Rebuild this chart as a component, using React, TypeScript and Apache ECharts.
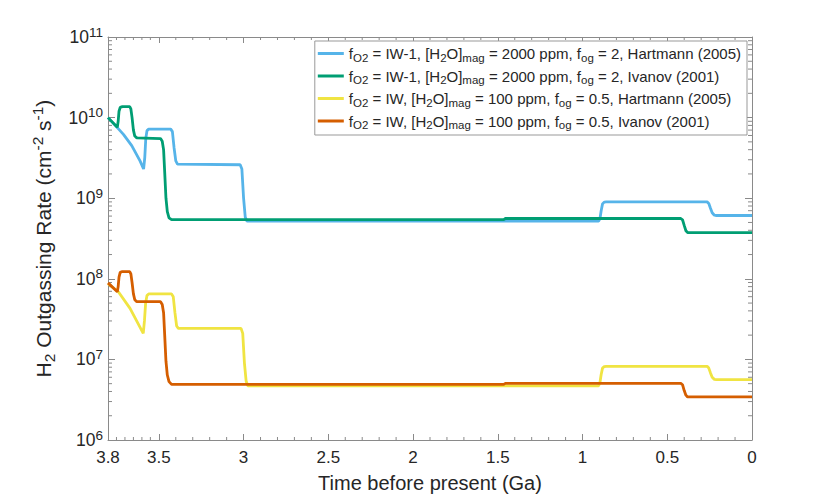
import React, { useEffect, useRef } from 'react';
import * as echarts from 'echarts';

const FONT = '"Liberation Sans", Arial, Helvetica, sans-serif';
const TEXT = '#262626';
const AXIS = '#8a8a8a';

const seriesNames = [
  'fO2 = IW-1, [H2O]mag = 2000 ppm, fog = 2, Hartmann (2005)',
  'fO2 = IW-1, [H2O]mag = 2000 ppm, fog = 2, Ivanov (2001)',
  'fO2 = IW, [H2O]mag = 100 ppm, fog = 0.5, Hartmann (2005)',
  'fO2 = IW, [H2O]mag = 100 ppm, fog = 0.5, Ivanov (2001)',
];
const legendRichLabels = [
  '{n|f}{s|O2}{n| = IW-1, [H}{s|2}{n|O]}{s|mag}{n| = 2000 ppm, f}{s|og}{n| = 2, Hartmann (2005)}',
  '{n|f}{s|O2}{n| = IW-1, [H}{s|2}{n|O]}{s|mag}{n| = 2000 ppm, f}{s|og}{n| = 2, Ivanov (2001)}',
  '{n|f}{s|O2}{n| = IW, [H}{s|2}{n|O]}{s|mag}{n| = 100 ppm, f}{s|og}{n| = 0.5, Hartmann (2005)}',
  '{n|f}{s|O2}{n| = IW, [H}{s|2}{n|O]}{s|mag}{n| = 100 ppm, f}{s|og}{n| = 0.5, Ivanov (2001)}',
];
const seriesColors = ['#56B4E9', '#009E73', '#F0E442', '#D55E00'];

// [time before present (Ga), H2 outgassing rate (cm^-2 s^-1)]
const hartmannIW1: [number, number][] = [
  [3.8, 1.0e10], [3.745, 7.5e9], [3.709, 6.2e9], [3.66, 4.5e9], [3.611, 2.9e9],
  [3.59, 2.3e9], [3.583, 3.2e9], [3.577, 5.5e9], [3.57, 6.9e9], [3.56, 7.2e9],
  [3.43, 7.2e9], [3.42, 6.7e9], [3.41, 4.2e9], [3.4, 2.9e9], [3.39, 2.65e9],
  [3.02, 2.6e9], [3.01, 2.3e9], [3.0, 1.0e9], [2.99, 5.8e8], [2.98, 5.2e8],
  [0.905, 5.2e8], [0.897, 5.6e8], [0.89, 7.0e8], [0.882, 8.5e8], [0.872, 8.95e8], [0.86, 9.0e8],
  [0.265, 9.0e8], [0.255, 8.6e8], [0.245, 7.5e8], [0.235, 6.6e8], [0.222, 6.15e8], [0.21, 6.1e8],
  [0.0, 6.1e8],
];
const ivanovIW1: [number, number][] = [
  [3.8, 1.0e10], [3.745, 7.6e9], [3.74, 9.0e9], [3.735, 1.2e10], [3.728, 1.34e10], [3.715, 1.37e10],
  [3.672, 1.37e10], [3.665, 1.28e10], [3.658, 1.0e10], [3.65, 7.0e9], [3.642, 5.9e9], [3.63, 5.6e9],
  [3.49, 5.5e9], [3.48, 5.1e9], [3.472, 4.0e9], [3.465, 2.0e9], [3.458, 1.0e9], [3.45, 6.8e8],
  [3.44, 5.7e8], [3.425, 5.42e8],
  [1.465, 5.42e8], [1.455, 5.6e8],
  [0.42, 5.6e8], [0.41, 5.4e8], [0.4, 4.6e8], [0.39, 3.95e8], [0.38, 3.75e8],
  [0.0, 3.75e8],
];
const hartmannIW: [number, number][] = [
  [3.8, 8.7e7], [3.739, 6.9e7], [3.67, 4.3e7], [3.592, 2.1e7], [3.585, 3.0e7],
  [3.578, 5.0e7], [3.57, 6.2e7], [3.56, 6.5e7],
  [3.425, 6.5e7], [3.415, 6.0e7], [3.405, 3.8e7], [3.395, 2.6e7], [3.385, 2.43e7],
  [3.015, 2.43e7], [3.005, 2.1e7], [2.995, 9.0e6], [2.985, 5.4e6], [2.975, 4.7e6],
  [0.905, 4.7e6], [0.897, 5.2e6], [0.89, 6.5e6], [0.882, 7.8e6], [0.872, 8.15e6], [0.86, 8.2e6],
  [0.265, 8.2e6], [0.255, 7.8e6], [0.245, 6.8e6], [0.235, 6.0e6], [0.222, 5.65e6], [0.21, 5.6e6],
  [0.0, 5.6e6],
];
const ivanovIW: [number, number][] = [
  [3.8, 8.9e7], [3.745, 6.9e7], [3.74, 8.0e7], [3.735, 1.05e8], [3.728, 1.2e8], [3.715, 1.23e8],
  [3.672, 1.23e8], [3.665, 1.15e8], [3.658, 9.0e7], [3.65, 6.5e7], [3.642, 5.5e7], [3.63, 5.2e7],
  [3.49, 5.2e7], [3.48, 4.8e7], [3.472, 3.8e7], [3.465, 1.9e7], [3.458, 9.5e6], [3.45, 6.4e6],
  [3.44, 5.3e6], [3.425, 4.9e6],
  [1.465, 4.9e6], [1.455, 5.05e6],
  [0.42, 5.05e6], [0.41, 4.85e6], [0.4, 4.1e6], [0.39, 3.6e6], [0.38, 3.42e6],
  [0.0, 3.42e6],
];
const seriesData = [hartmannIW1, ivanovIW1, hartmannIW, ivanovIW];

const xMin = 0;
const xMax = 3.8;
const xInterval = 0.5;
const yMin = 1e6;
const yMax = 1e11;

// minor tick positions (axis decoration)
const xMinorTicks: number[] = [3.75, 3.7, 3.65, 3.6, 3.55];
for (let i = 34; i >= 1; i--) if (i % 5 !== 0) xMinorTicks.push(i / 10);
const yMinorTicks: number[] = [];
for (let e = 6; e < 11; e++) for (let k = 2; k <= 9; k++) yMinorTicks.push(k * Math.pow(10, e));

export default function App() {
  const ref = useRef<HTMLDivElement>(null);
  useEffect(() => {
    if (!ref.current) return;
    const chart = echarts.init(ref.current, undefined, { renderer: 'svg' });
    const axisCommon = {
      axisLine: { show: true, onZero: false, lineStyle: { color: AXIS, width: 1 } },
      splitLine: { show: false },
    };
    const option: any = {
      animation: false,
      backgroundColor: '#fff',
      textStyle: { fontFamily: FONT },
      grid: { left: 108, right: 78, top: 37, bottom: 55, containLabel: false },
      legend: {
        data: seriesNames,
        orient: 'vertical',
        right: 83,
        top: 41,
        padding: [5, 6, 4, 3],
        itemGap: 5,
        itemWidth: 26,
        itemHeight: 3,
        icon: 'rect',
        borderColor: '#999',
        borderWidth: 1,
        borderRadius: 0,
        backgroundColor: '#fff',
        selectedMode: false,
        formatter: (name: string) => legendRichLabels[seriesNames.indexOf(name)],
        textStyle: {
          fontFamily: FONT,
          color: TEXT,
          rich: {
            n: { fontSize: 15, lineHeight: 20, color: TEXT, fontFamily: FONT },
            s: { fontSize: 11.5, lineHeight: 7, verticalAlign: 'bottom', color: TEXT, fontFamily: FONT },
          },
        },
      },
      xAxis: [
        {
          type: 'value', min: xMin, max: xMax, interval: xInterval, inverse: true, position: 'bottom',
          ...axisCommon,
          axisTick: { show: true, inside: true, length: 6, lineStyle: { color: AXIS } },
          axisLabel: { color: TEXT, fontSize: 17, margin: 9, fontFamily: FONT },
          name: 'Time before present (Ga)', nameLocation: 'middle', nameGap: 33,
          nameTextStyle: { color: TEXT, fontSize: 20, fontFamily: FONT },
        },
        {
          type: 'value', min: xMin, max: xMax, interval: xInterval, inverse: true, position: 'top',
          ...axisCommon,
          axisTick: { show: true, inside: true, length: 6, lineStyle: { color: AXIS } },
          axisLabel: { show: false },
        },
      ],
      yAxis: [
        {
          type: 'log', logBase: 10, min: yMin, max: yMax, position: 'left',
          ...axisCommon,
          axisTick: { show: true, inside: true, length: 7, lineStyle: { color: AXIS } },
          axisLabel: {
            margin: 5,
            formatter: (v: number) => `{b|10}{e|${Math.round(Math.log10(v))}}`,
            rich: {
              b: { fontSize: 17.5, lineHeight: 24, color: TEXT, fontFamily: FONT },
              e: { fontSize: 13.5, lineHeight: 10, verticalAlign: 'top', color: TEXT, fontFamily: FONT },
            },
          },
          name: '{n|H}{s|2}{n| Outgassing Rate (cm}{p|-2}{n| s}{p|-1}{n|)}',
          nameLocation: 'middle', nameGap: 50, nameRotate: 90,
          nameTextStyle: {
            rich: {
              n: { fontSize: 21, lineHeight: 28, color: TEXT, fontFamily: FONT },
              s: { fontSize: 15.5, lineHeight: 10, verticalAlign: 'bottom', color: TEXT, fontFamily: FONT },
              p: { fontSize: 15.5, lineHeight: 12, verticalAlign: 'top', color: TEXT, fontFamily: FONT },
            },
          },
        },
        {
          type: 'log', logBase: 10, min: yMin, max: yMax, position: 'right',
          ...axisCommon,
          axisTick: { show: true, inside: true, length: 7, lineStyle: { color: AXIS } },
          axisLabel: { show: false },
        },
      ],
      series: [
        ...seriesData.map((d, i) => ({
          name: seriesNames[i],
          type: 'line',
          xAxisIndex: 0,
          yAxisIndex: 0,
          data: d,
          showSymbol: false,
          symbol: 'none',
          color: seriesColors[i],
          lineStyle: { color: seriesColors[i], width: 2.8 },
          z: 3 + i,
        })),
        {
          type: 'custom',
          name: 'xMinor',
          xAxisIndex: 0,
          yAxisIndex: 0,
          silent: true,
          clip: false,
          data: xMinorTicks.map((v) => [v, yMin]),
          renderItem: (_p: any, api: any) => {
            const v = api.value(0);
            const b = api.coord([v, yMin]);
            const t = api.coord([v, yMax]);
            return {
              type: 'group',
              children: [
                { type: 'line', shape: { x1: b[0], y1: b[1], x2: b[0], y2: b[1] - 3 }, style: { stroke: AXIS, lineWidth: 1 } },
                { type: 'line', shape: { x1: t[0], y1: t[1], x2: t[0], y2: t[1] + 3 }, style: { stroke: AXIS, lineWidth: 1 } },
              ],
            };
          },
        },
        {
          type: 'custom',
          name: 'yMinor',
          xAxisIndex: 0,
          yAxisIndex: 0,
          silent: true,
          clip: false,
          data: yMinorTicks.map((v) => [xMax, v]),
          renderItem: (_p: any, api: any) => {
            const v = api.value(1);
            const l = api.coord([xMax, v]);
            const r = api.coord([xMin, v]);
            return {
              type: 'group',
              children: [
                { type: 'line', shape: { x1: l[0], y1: l[1], x2: l[0] + 4, y2: l[1] }, style: { stroke: AXIS, lineWidth: 1 } },
                { type: 'line', shape: { x1: r[0], y1: r[1], x2: r[0] - 4, y2: r[1] }, style: { stroke: AXIS, lineWidth: 1 } },
              ],
            };
          },
        },
      ],
    };
    chart.setOption(option);
    return () => chart.dispose();
  }, []);
  return <div ref={ref} style={{ position: 'fixed', left: 0, top: 0, width: 830, height: 498 }} />;
}
